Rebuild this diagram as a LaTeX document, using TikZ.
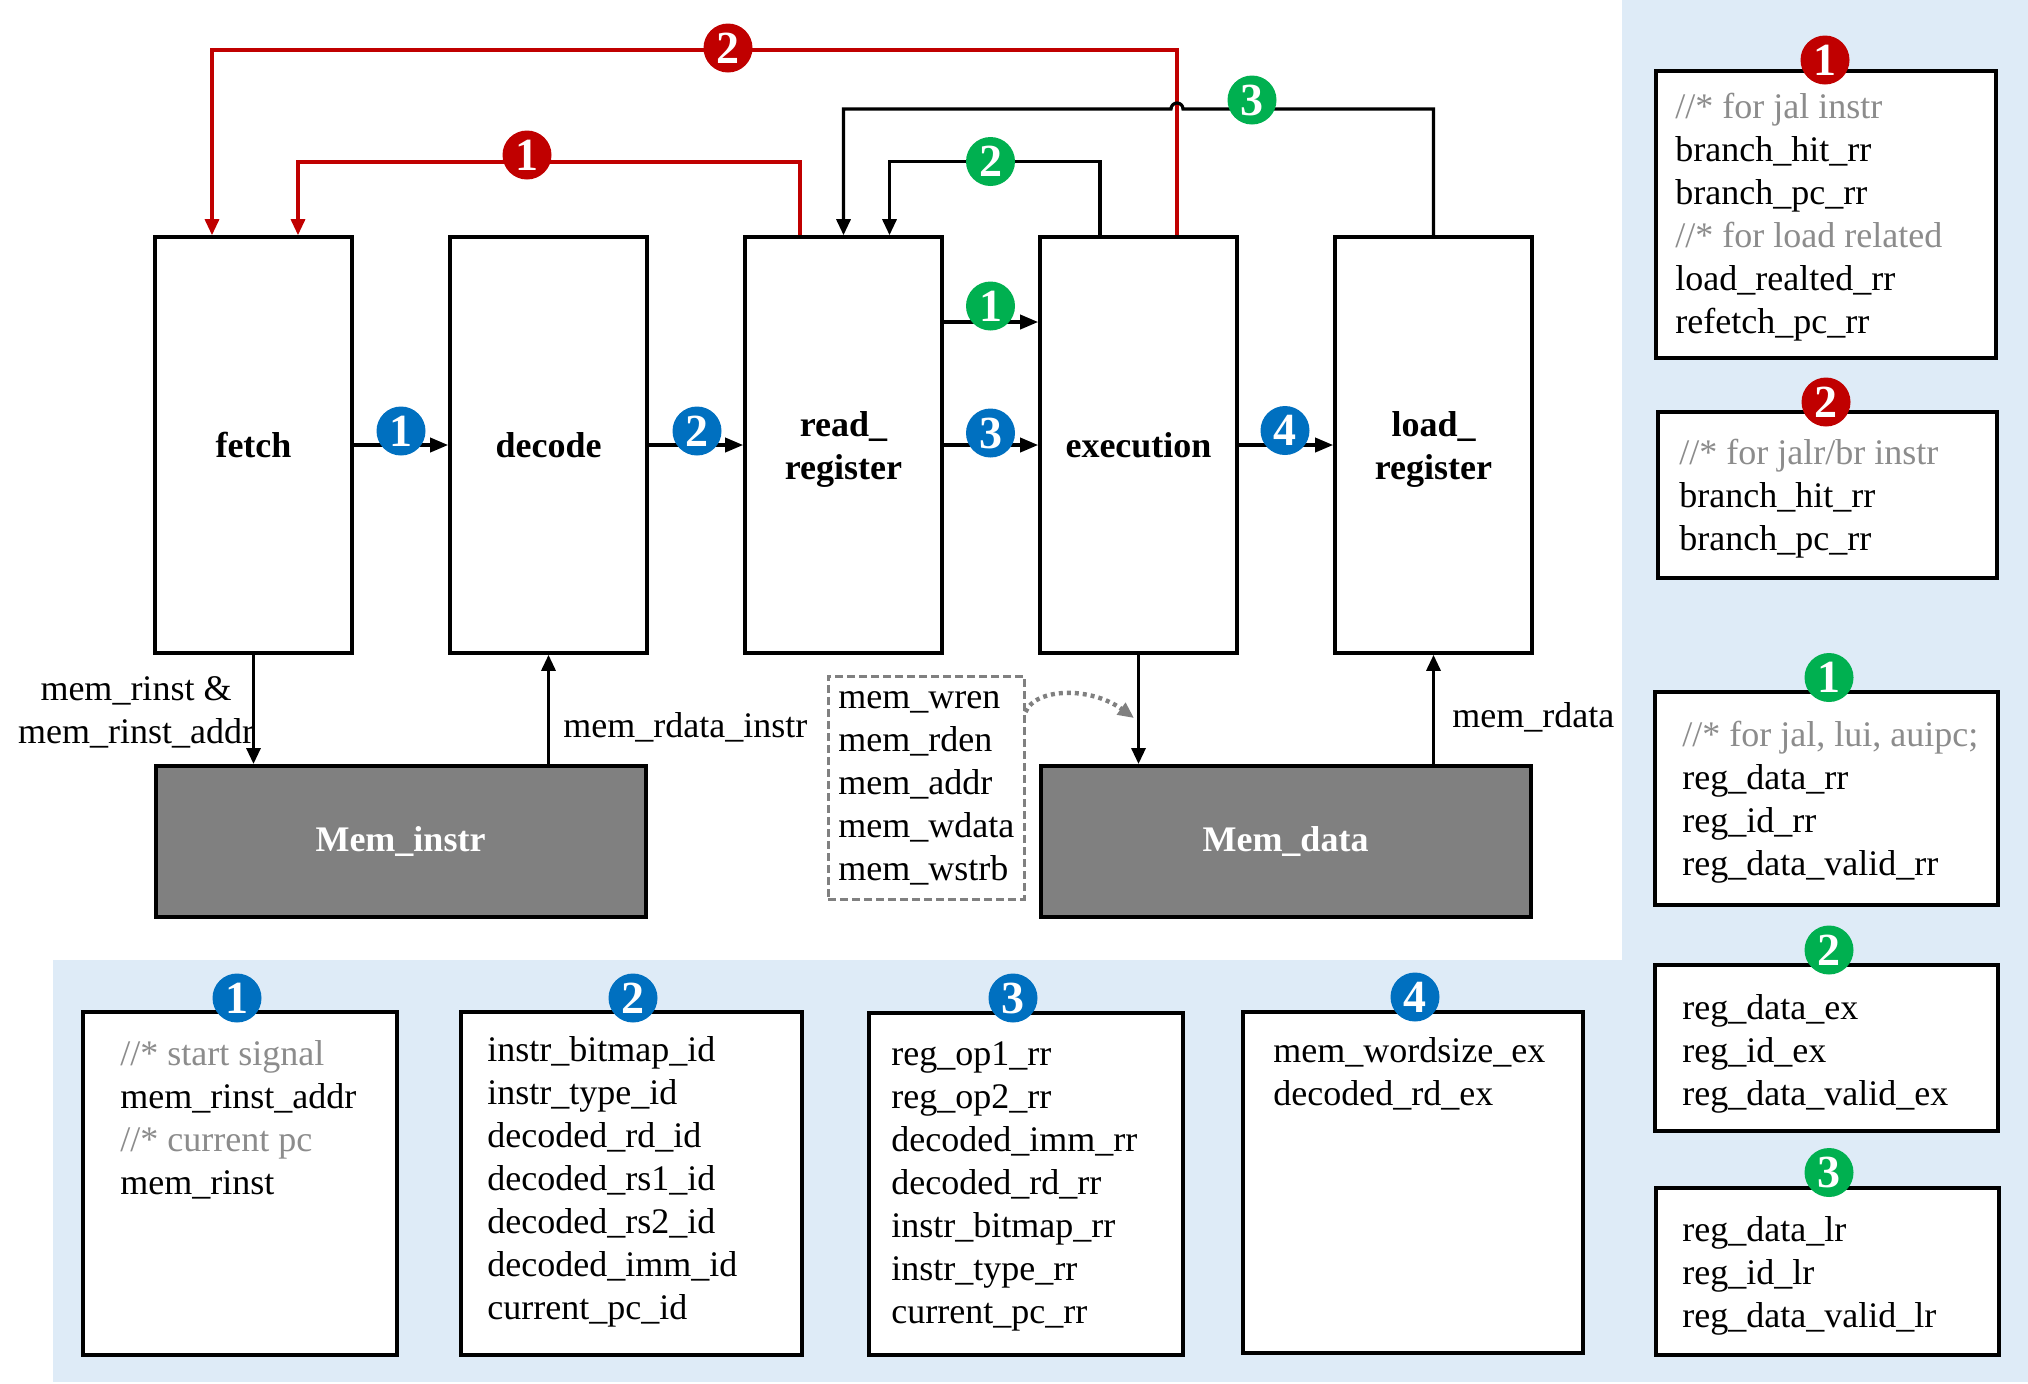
\documentclass[tikz,border=0pt]{standalone}
\usepackage{fontspec}
\setmainfont{Liberation Serif}
\usetikzlibrary{arrows.meta,calc,fit}
\definecolor{bgblue}{RGB}{222,235,247}
\definecolor{cblue}{RGB}{0,112,192}
\definecolor{cred}{RGB}{192,0,0}
\definecolor{cgreen}{RGB}{0,176,80}
\definecolor{memgray}{RGB}{128,128,128}
\definecolor{cmt}{RGB}{140,140,140}
\newcommand\fs{\fontsize{18}{21.5}\selectfont}
\begin{document}
\begin{tikzpicture}[x=0.5pt,y=-0.5pt,
  stage/.style={draw, line width=1.8pt, minimum width=98.5pt, minimum height=208pt, inner sep=0pt, font=\fs\bfseries, align=center},
  slabel/.style={inner sep=0pt, font=\fs\bfseries, align=center},
  mem/.style={draw, line width=2pt, fill=memgray, minimum width=245pt, minimum height=75.5pt, inner sep=0pt, font=\fs\bfseries, text=white},
  lbox/.style={draw, line width=2pt, fill=white, inner sep=0pt},
  dbox/.style={draw=memgray, line width=1.5pt, dash pattern=on 4pt off 2pt, inner sep=0pt},
  txt/.style={anchor=north west, inner sep=0pt, align=left, font=\fs},
  num/.style={circle, inner sep=0pt, minimum size=24.5pt, text=white, font=\fontsize{23}{23}\selectfont\bfseries},
  bnum/.style={num, fill=cblue}, rnum/.style={num, fill=cred}, gnum/.style={num, fill=cgreen},
  flow/.style={line width=1.8pt, -{Triangle[length=9pt,width=7pt]}},
  fb/.style={line width=1.6pt, -{Triangle[length=8pt,width=7pt]}},
  dotarrow/.style={draw=memgray, line width=2.2pt, dash pattern=on 2pt off 2pt, -{Triangle[length=8pt,width=7pt,fill=memgray]}},
]
\useasboundingbox (0,0) rectangle (2028,1383);
\fill[white] (0,0) rectangle (2028,1383);
\fill[bgblue] (1622,0) rectangle (2028,1382);
\fill[bgblue] (53,960) rectangle (1622,1382);

% stages
\node[stage] (fetch) at (253.5,445) {fetch};
\node[stage] (decode) at (548.5,445) {decode};
\node[stage] (rr) at (843.5,445) {};
\node[stage] (exec) at (1138.5,445) {execution};
\node[stage] (lr) at (1433.5,445) {};
\node[slabel] (rrlbl) at (843.5,449) {read\_\\register};
\node[slabel] (lrlbl) at (1433.5,449) {load\_\\register};

% memories
\node[mem] (memi) at (400.5,841.5) {Mem\_instr};
\node[mem] (memd) at (1285.5,841.5) {Mem\_data};

% helper coordinates
\coordinate (yg1) at (0,322);
\coordinate (xr1) at (800,0); \coordinate (yr1) at (0,162); \coordinate (xr1l) at (298,0);
\coordinate (xr2) at (1177,0); \coordinate (yr2) at (0,50); \coordinate (xr2l) at (212,0);
\coordinate (xg2) at (1100,0); \coordinate (yg2) at (0,161.5); \coordinate (xg2l) at (889.5,0);
\coordinate (yg3) at (0,109);

% pipeline arrows
\draw[flow] (fetch.east) -- (decode.west);
\draw[flow] (decode.east) -- (rr.west);
\draw[flow] (rr.east) -- (exec.west);
\draw[flow] (exec.east) -- (lr.west);
\draw[flow] (rr.east |- yg1) -- (exec.west |- yg1);

% feedback
\draw[fb, cred] (xr1 |- rr.north) -- (xr1 |- yr1) -- (xr1l |- yr1) -- (xr1l |- fetch.north);
\draw[fb, cred] (xr2 |- exec.north) -- (xr2 |- yr2) -- (xr2l |- yr2) -- (xr2l |- fetch.north);
\draw[fb] (xg2 |- exec.north) -- (xg2 |- yg2) -- (xg2l |- yg2) -- (xg2l |- rr.north);
\draw[fb] (lr.north) -- (lr.north |- yg3) -- ($(xr2 |- yg3)+(6,0)$) arc[start angle=0, end angle=-180, radius=6] -- (rr.north |- yg3) -- (rr.north);

% memory arrows
\draw[fb] (fetch.south) -- (fetch.south |- memi.north);
\draw[fb] (memi.north -| decode.south) -- (decode.south);
\draw[fb] (exec.south) -- (exec.south |- memd.north);
\draw[fb] (memd.north -| lr.south) -- (lr.south);

% labels
\node[font=\fs, align=center, anchor=north, inner sep=0pt] (lblrinst) at (136,670) {\strut mem\_rinst \&\\mem\_rinst\_addr};
\node[txt] (lblrdi) at (563,707) {\strut mem\_rdata\_instr};
\node[txt] (lblrd) at (1452,697) {\strut mem\_rdata};

% dashed box
\node[dbox, fit={(828,676) (1024,899)}] (dsig) {};
\node[txt] (dtxt) at (838,678) {\strut mem\_wren\\mem\_rden\\mem\_addr\\mem\_wdata\\mem\_wstrb};
\coordinate (dcs) at (0,712); \coordinate (dce) at (1134,718);
\draw[dotarrow] (dsig.east |- dcs) .. controls (1035,688) and (1090,686) .. (dce);

% flow circles
\node[bnum] (b1) at (401,431) {1};
\node[bnum] (b2) at (697,431) {2};
\node[bnum] (b3) at (990.5,433) {3};
\node[bnum] (b4) at (1285,430.5) {4};
\node[gnum] (g1) at (990.5,306) {1};
\node[gnum] (g2) at (990.5,161.5) {2};
\node[gnum] (g3) at (1252,100) {3};
\node[rnum] (r1) at (527,155) {1};
\node[rnum] (r2) at (728,48) {2};

% legend boxes right
\node[lbox, fit={(1656,71) (1996,358)}] (lred1) {};
\node[lbox, fit={(1658,412) (1997,578)}] (lred2) {};
\node[lbox, fit={(1655,692) (1998,905)}] (lgrn1) {};
\node[lbox, fit={(1655,965) (1998,1131)}] (lgrn2) {};
\node[lbox, fit={(1656,1188) (1999,1355)}] (lgrn3) {};
% legend boxes bottom
\node[lbox, fit={(83,1012) (397,1355)}] (lblu1) {};
\node[lbox, fit={(461,1012) (802,1355)}] (lblu2) {};
\node[lbox, fit={(869,1013) (1183,1355)}] (lblu3) {};
\node[lbox, fit={(1243,1012) (1583,1353)}] (lblu4) {};

% legend texts
\node[txt] (tred1) at (1675,88) {{\color{cmt}\strut //* for jal instr}\\branch\_hit\_rr\\branch\_pc\_rr\\{\color{cmt}//* for load related}\\load\_realted\_rr\\refetch\_pc\_rr};
\node[txt] (tred2) at (1679,434) {{\color{cmt}\strut //* for jalr/br instr}\\branch\_hit\_rr\\branch\_pc\_rr};
\node[txt] (tgrn1) at (1682,716) {{\color{cmt}\strut //* for jal, lui, auipc;}\\reg\_data\_rr\\reg\_id\_rr\\reg\_data\_valid\_rr};
\node[txt] (tgrn2) at (1682,988.5) {\strut reg\_data\_ex\\reg\_id\_ex\\reg\_data\_valid\_ex};
\node[txt] (tgrn3) at (1682,1211) {\strut reg\_data\_lr\\reg\_id\_lr\\reg\_data\_valid\_lr};
\node[txt] (tblu1) at (120,1035) {{\color{cmt}\strut //* start signal}\\mem\_rinst\_addr\\{\color{cmt}//* current pc}\\mem\_rinst};
\node[txt] (tblu2) at (487,1031) {\strut instr\_bitmap\_id\\instr\_type\_id\\decoded\_rd\_id\\decoded\_rs1\_id\\decoded\_rs2\_id\\decoded\_imm\_id\\current\_pc\_id};
\node[txt] (tblu3) at (891,1035) {\strut reg\_op1\_rr\\reg\_op2\_rr\\decoded\_imm\_rr\\decoded\_rd\_rr\\instr\_bitmap\_rr\\instr\_type\_rr\\current\_pc\_rr};
\node[txt] (tblu4) at (1273,1032) {\strut mem\_wordsize\_ex\\decoded\_rd\_ex};

% legend circles
\node[rnum] (cr1) at (1825,60) {1};
\node[rnum] (cr2) at (1826,402) {2};
\node[gnum] (cg1) at (1829,677.5) {1};
\node[gnum] (cg2) at (1829,950) {2};
\node[gnum] (cg3) at (1829,1172.5) {3};
\node[bnum] (cb1) at (237,998) {1};
\node[bnum] (cb2) at (633,998) {2};
\node[bnum] (cb3) at (1013,998) {3};
\node[bnum] (cb4) at (1415,997) {4};
\end{tikzpicture}
\end{document}
